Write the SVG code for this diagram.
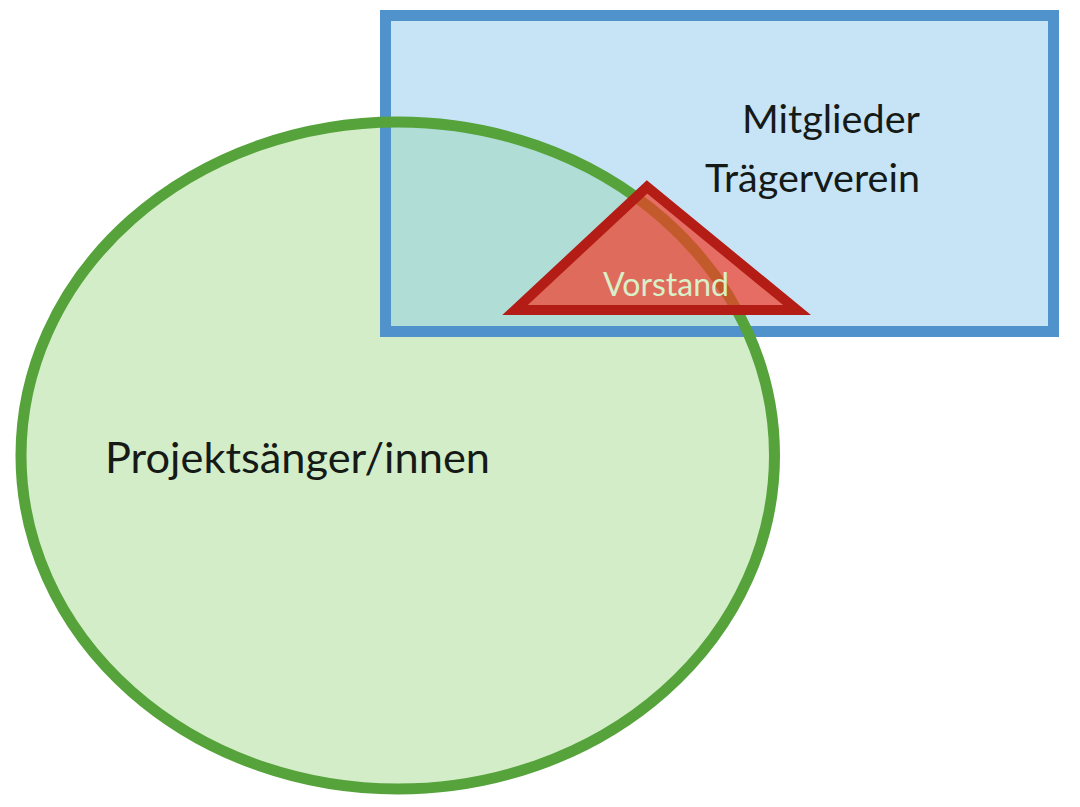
<svg xmlns="http://www.w3.org/2000/svg" width="1080" height="807" viewBox="0 0 1080 807">
<defs>
<style>
.lbl{font-family:Lato,"Liberation Sans",sans-serif;fill:#151a17}
.vor{font-family:Lato,"Liberation Sans",sans-serif;fill:#d8f0c8}
</style>
<clipPath id="ellClip"><ellipse cx="397.75" cy="455.5" rx="376.75" ry="333.5"/></clipPath>
</defs>
<rect x="0" y="0" width="1080" height="807" fill="#ffffff"/>
<g id="ellipse-fill">
<ellipse cx="397.75" cy="455.5" rx="376.75" ry="333.5" fill="#d4edc9"/>
</g>
<g id="mitglieder">
<rect x="385.5" y="15.5" width="668" height="316" fill="#c6e4f5" stroke="#5092cc" stroke-width="11"/>
<rect x="391" y="21" width="657" height="305" fill="#b0ddd6" clip-path="url(#ellClip)"/>
<text class="lbl" x="920" y="133" font-size="39" text-anchor="end" textLength="178" lengthAdjust="spacingAndGlyphs">Mitglieder</text>
<text class="lbl" x="920" y="192" font-size="39" text-anchor="end" textLength="215" lengthAdjust="spacingAndGlyphs">Trägerverein</text>
</g>
<g id="projektsaenger">
<ellipse cx="397.75" cy="455.5" rx="376.75" ry="333.5" fill="none" stroke="#55a33a" stroke-width="11"/>
<text class="lbl" x="105" y="473" font-size="43" textLength="385" lengthAdjust="spacingAndGlyphs">Projektsänger/innen</text>
</g>
<g id="vorstand">
<polygon points="647,187 515,310 797,310" fill="#f23b26" fill-opacity="0.7" stroke="#b41d16" stroke-width="10" stroke-linejoin="miter"/>
<text class="vor" x="603" y="296" font-size="32" textLength="126" lengthAdjust="spacingAndGlyphs">Vorstand</text>
</g>
<g id="connectors"></g>
</svg>
